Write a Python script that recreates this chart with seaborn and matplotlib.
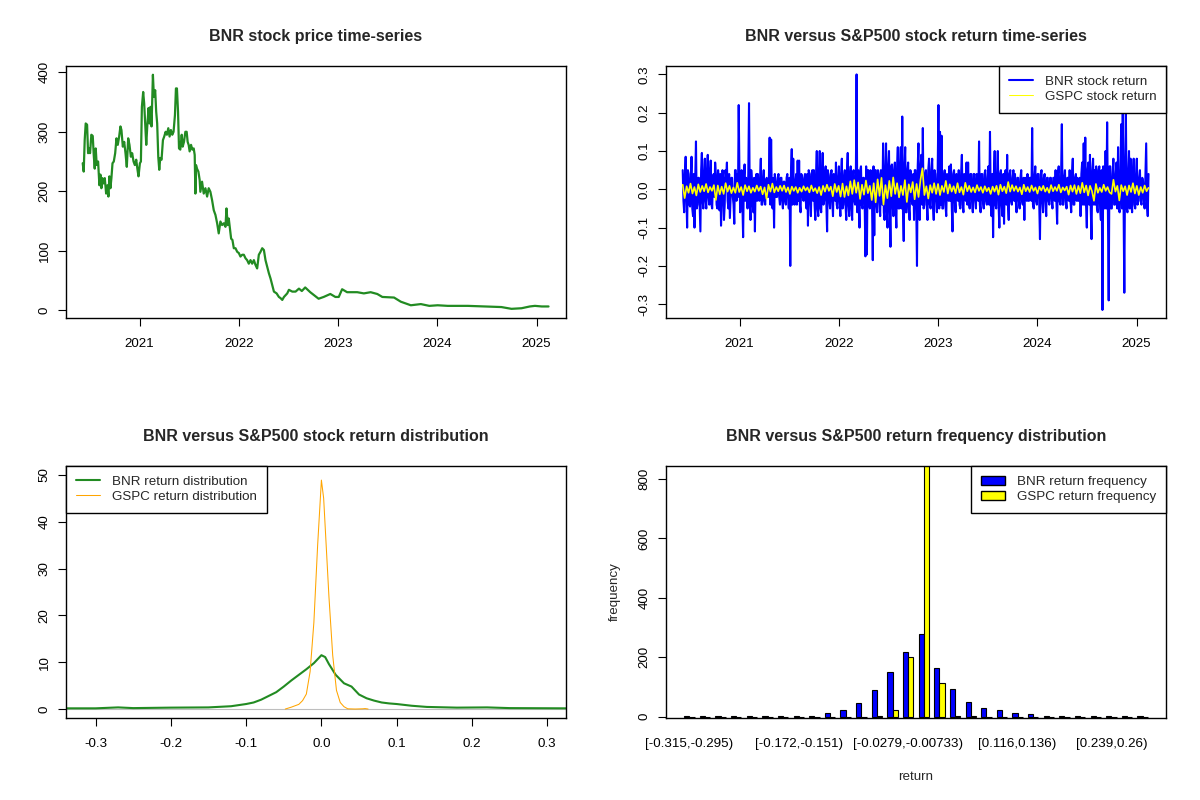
import numpy as np
import pandas as pd
import matplotlib
matplotlib.use("Agg")
import matplotlib.pyplot as plt
import seaborn as sns
from matplotlib.patches import Patch
from matplotlib.lines import Line2D

# ---- data ----
# BNR closing price (decimal year, price)
price_year = [2020.428, 2020.438, 2020.448, 2020.458, 2020.472, 2020.482, 2020.492, 2020.502, 2020.515,
              2020.529, 2020.539, 2020.549, 2020.559, 2020.569, 2020.583, 2020.596, 2020.606, 2020.616,
              2020.626, 2020.637, 2020.650, 2020.664, 2020.677, 2020.687, 2020.697, 2020.707, 2020.717,
              2020.728, 2020.741, 2020.755, 2020.768, 2020.781, 2020.795, 2020.808, 2020.818, 2020.832,
              2020.846, 2020.859, 2020.872, 2020.886, 2020.899, 2020.913, 2020.926, 2020.940, 2020.953,
              2020.967, 2020.980, 2020.990, 2021.004, 2021.014, 2021.024, 2021.037, 2021.047, 2021.058,
              2021.068, 2021.078, 2021.091, 2021.101, 2021.111, 2021.121, 2021.135, 2021.145, 2021.158,
              2021.168, 2021.178, 2021.189, 2021.199, 2021.209, 2021.222, 2021.236, 2021.249, 2021.263,
              2021.276, 2021.290, 2021.303, 2021.316, 2021.330, 2021.343, 2021.357, 2021.367, 2021.377,
              2021.388, 2021.398, 2021.411, 2021.425, 2021.435, 2021.448, 2021.462, 2021.475, 2021.485,
              2021.495, 2021.505, 2021.519, 2021.532, 2021.546, 2021.556, 2021.563, 2021.569, 2021.579,
              2021.593, 2021.606, 2021.613, 2021.630, 2021.647, 2021.664, 2021.681, 2021.697, 2021.714,
              2021.731, 2021.748, 2021.765, 2021.782, 2021.798, 2021.815, 2021.832, 2021.849, 2021.866,
              2021.876, 2021.889, 2021.899, 2021.909, 2021.923, 2021.936, 2021.950, 2021.967, 2021.984,
              2022.000, 2022.017, 2022.034, 2022.051, 2022.068, 2022.084, 2022.101, 2022.118, 2022.135,
              2022.152, 2022.168, 2022.185, 2022.202, 2022.219, 2022.236, 2022.253, 2022.269, 2022.286,
              2022.303, 2022.320, 2022.337, 2022.354, 2022.381, 2022.404, 2022.421, 2022.438, 2022.455,
              2022.488, 2022.505, 2022.539, 2022.572, 2022.606, 2022.635, 2022.669, 2022.720, 2022.804,
              2022.855, 2022.922, 2022.973, 2023.007, 2023.041, 2023.091, 2023.193, 2023.260, 2023.328,
              2023.395, 2023.446, 2023.564, 2023.632, 2023.733, 2023.834, 2023.919, 2024.003, 2024.105,
              2024.307, 2024.476, 2024.645, 2024.747, 2024.848, 2024.932, 2024.983, 2025.051, 2025.120]
price_value = [247, 233, 286, 314, 312, 264, 272, 264, 295,
               293, 261, 238, 272, 244, 250, 210, 228, 205,
               222, 213, 222, 196, 210, 191, 225, 205, 222,
               247, 250, 264, 289, 278, 292, 309, 303, 275,
               283, 264, 241, 289, 278, 258, 264, 250, 244,
               253, 236, 225, 247, 250, 342, 367, 348, 312,
               278, 309, 340, 314, 342, 309, 396, 359, 370,
               334, 314, 258, 236, 256, 253, 286, 292, 300,
               295, 306, 292, 303, 295, 300, 328, 373, 373,
               334, 272, 270, 295, 275, 283, 300, 300, 283,
               278, 267, 278, 270, 272, 261, 196, 244, 238,
               233, 219, 199, 216, 196, 205, 191, 205, 199,
               185, 168, 160, 146, 129, 149, 143, 146, 140,
               171, 143, 154, 140, 120, 118, 104, 104, 98,
               96, 90, 93, 93, 87, 84, 78, 84, 78,
               84, 76, 70, 93, 98, 104, 101, 84, 73,
               62, 53, 42, 31, 28, 22, 20, 17, 22,
               28, 34, 31, 31, 36, 32, 38, 30, 19,
               22, 27, 22, 22, 35, 30, 30, 28, 30,
               27, 22, 21, 14, 8, 10, 7, 8, 7,
               7, 6, 5, 2, 3, 6, 7, 6, 6]

# BNR daily return, two stretches of the time axis: visible spikes ...
bnr_ret_a = [0.05, -0.06, 0.085, -0.1, 0.04, -0.045, 0.085, -0.07, -0.1, 0.125,
             -0.04, 0.03, -0.11, 0.095, -0.05, 0.08, -0.05, 0.09, -0.04, 0.075,
             -0.05, 0.04, 0.07, -0.04, 0.05, -0.055, -0.095, 0.05, -0.08, 0.05,
             0.07, -0.05, -0.075, 0.03, -0.02, -0.09, 0.05, 0.04, 0.22, -0.06,
             0.05, -0.125, 0.065, 0.03, -0.05, 0.225, -0.08, 0.02, -0.06, -0.11,
             0.04, 0.04, -0.03, 0.08, -0.04, 0.05, -0.04, 0.03, -0.02, 0.135,
             0.13, -0.05, -0.1, 0.02, -0.02, 0.04, -0.04, 0.03, -0.05, 0.02,
             -0.04, 0.04, -0.05, -0.2, 0.105, 0.08, -0.04, 0.04, 0.075, 0.075,
             -0.06, 0.03, -0.03, 0.04, -0.05, -0.095, 0.04, -0.07, 0.05, 0.05,
             -0.08, 0.1, -0.07, 0.1, -0.06, 0.095, -0.03, 0.06, -0.11, 0.035,
             -0.05, 0.05, -0.07, 0.02, 0.07, -0.05, 0.06, -0.07, 0.08, -0.04,
             0.05, -0.08, 0.095, -0.07, 0.06, -0.08, 0.05, -0.04, 0.3, 0.05,
             -0.1, 0.06, -0.05, 0.03, -0.175, -0.17, 0.05, -0.05, 0.04, -0.185,
             -0.12, 0.05, -0.06, 0.04, -0.07, 0.03, 0.12, -0.08, 0.12, -0.1,
             0.1, -0.15, 0.065, -0.07, 0.07, -0.1, 0.11, -0.05, 0.11, 0.19,
             -0.135, 0.11, -0.06, 0.07, -0.08, 0.04, -0.04, -0.08, 0.05, -0.2,
             0.12]
bnr_ret_b = [-0.08, 0.09, 0.16, -0.04, 0.05, -0.08, 0.08, -0.05, 0.08, -0.08,
             0.04, -0.06, 0.22, 0.15, 0.14, -0.05, 0.05, -0.07, 0.03, 0.06,
             0.065, -0.11, 0.05, -0.06, 0.03, 0.05, -0.05, 0.09, -0.06, 0.03,
             0.07, 0.07, -0.05, 0.04, -0.06, 0.04, -0.05, 0.03, 0.125, -0.06,
             0.04, -0.05, 0.05, -0.04, 0.06, 0.15, -0.07, -0.125, 0.1, -0.05,
             0.1, -0.1, 0.05, -0.07, -0.09, 0.05, 0.09, -0.08, 0.05, -0.04,
             0.05, 0.04, -0.06, 0.03, -0.05, 0.05, -0.04, -0.08, 0.02, 0.04,
             -0.03, 0.03, 0.16, -0.05, 0.06, -0.04, 0.04, -0.13, 0.05, -0.06,
             0.04, -0.07, 0.03, -0.04, 0.03, -0.05, 0.03, 0.05, -0.09, 0.06,
             -0.04, 0.17, -0.04, 0.05, -0.05, 0.03, 0.05, -0.06, 0.08, -0.04,
             0.04, 0.03, -0.03, -0.07, 0.07, 0.12, 0.135, -0.1, 0.07, 0.09,
             -0.13, 0.08, 0.05, 0.06, -0.06, 0.06, -0.08, -0.315, 0.05, 0.1,
             0.175, -0.29, 0.06, -0.05, 0.08, -0.04, 0.07, 0.11, -0.06, 0.17,
             0.205, -0.27, 0.2, -0.06, 0.1, 0.08, -0.06, 0.08, -0.05, 0.08,
             -0.03, 0.05, -0.04, 0.02, -0.05, 0.12, -0.07]
# ... and the ordinary days in between (the solid core of the blue band)
bnr_band_a = [-0.03, 0.04, -0.02, 0.05, -0.04, 0.03, -0.05, 0.04, 0.03, -0.05,
              0.03, -0.04, 0.05, -0.03, 0.04, -0.03, 0.05, -0.02, 0.04, -0.04,
              0.03, -0.02, 0.04, -0.05, 0.02, 0.04, -0.03, 0.03, -0.04, 0.03,
              -0.03, 0.04, -0.02, 0.03, -0.04, 0.05, -0.03, -0.02, 0.04, 0.03,
              -0.04, 0.03, -0.03, -0.02, 0.04, -0.02, 0.05, -0.04, 0.03, 0.02,
              -0.03, -0.02, 0.03, -0.04, 0.02, -0.03, 0.02, -0.02, 0.03, -0.04,
              -0.03, 0.03, 0.04, -0.02, 0.03, -0.02, 0.03, -0.03, 0.02, -0.03,
              0.03, -0.02, 0.03, 0.05, -0.04, -0.03, 0.02, -0.04, -0.03, -0.04,
              0.04, -0.02, 0.03, -0.03, 0.04, 0.05, -0.03, 0.04, -0.03, -0.04,
              0.04, -0.05, 0.04, -0.05, 0.04, -0.04, 0.03, -0.04, 0.05, -0.03,
              0.04, -0.03, 0.04, -0.03, -0.04, 0.03, -0.03, 0.04, -0.05, 0.03,
              -0.04, 0.05, -0.04, 0.03, -0.05, 0.04, -0.03, 0.03, -0.06, -0.04,
              0.05, -0.04, 0.03, -0.04, 0.06, 0.05, -0.04, 0.05, -0.04, 0.06,
              0.05, -0.04, 0.05, -0.03, 0.05, -0.04, -0.06, 0.05, -0.06, 0.06,
              -0.05, 0.06, -0.04, 0.05, -0.05, 0.06, -0.05, 0.06, -0.05, -0.06,
              0.05, -0.06, 0.05, -0.05, 0.05, -0.03, 0.04, 0.05, -0.04, 0.06,
              -0.05]
bnr_band_b = [0.05, -0.04, -0.05, 0.04, -0.04, 0.05, -0.04, 0.05, -0.04, 0.05,
              -0.03, 0.04, -0.05, -0.04, -0.05, 0.03, -0.04, 0.04, -0.03, -0.03,
              -0.04, 0.04, -0.03, 0.04, -0.03, -0.04, 0.04, -0.04, 0.04, -0.03,
              -0.04, -0.03, 0.04, -0.03, 0.04, -0.03, 0.04, -0.03, -0.04, 0.04,
              -0.03, 0.04, -0.03, 0.03, -0.04, -0.04, 0.04, 0.04, -0.04, 0.04,
              -0.04, 0.04, -0.04, 0.04, 0.04, -0.04, -0.04, 0.04, -0.03, 0.03,
              -0.03, -0.03, 0.03, -0.03, 0.03, -0.03, 0.03, 0.03, -0.03, -0.03,
              0.03, -0.03, -0.04, 0.03, -0.03, 0.04, -0.03, 0.04, -0.03, 0.03,
              -0.03, 0.03, -0.03, 0.03, -0.03, 0.03, -0.03, -0.03, 0.04, -0.03,
              0.03, -0.04, 0.03, -0.03, 0.03, -0.03, -0.03, 0.04, -0.04, 0.03,
              -0.03, -0.03, 0.03, 0.04, -0.04, -0.04, -0.04, 0.05, -0.04, -0.05,
              0.05, -0.04, -0.04, -0.05, 0.05, -0.05, 0.05, 0.06, -0.05, -0.05,
              -0.05, 0.06, -0.05, 0.04, -0.04, 0.04, -0.05, -0.05, 0.04, -0.05,
              -0.05, 0.06, -0.05, 0.04, -0.05, -0.04, 0.04, -0.04, 0.04, -0.04,
              0.03, -0.03, 0.03, -0.03, 0.04, -0.04, 0.04]
bnr_span_a = (2020.428, 2022.810)
bnr_span_b = (2022.815, 2025.120)

# S&P500 (GSPC) daily return, in percent
gspc_ret_pct = [1.2, -2.3, 0.8, -0.9, 1.5, -1.1, 0.6, -1.6, 1.3, -0.7,
                0.9, -0.5, 1.4, -0.8, 0.6, -0.4, 1.1, -2.8, 1.0, -1.3,
                0.7, -1.2, 1.6, -0.6, 0.9, -1.0, 0.5, -0.9, 1.7, -0.7,
                0.6, -1.5, 1.1, -0.5, 0.8, -0.9, 0.4, -0.6, 1.0, -0.4,
                0.7, -1.3, 0.5, -2.5, 1.2, -0.6, 1.5, -0.8, 0.6, -0.5,
                0.9, -0.4, 1.0, -0.7, 0.5, -1.2, 0.7, -0.4, 0.6, -0.9,
                0.4, -0.6, 0.8, -0.3, 0.5, -0.8, 1.0, -0.5, 0.3, -1.0,
                0.6, -1.5, 0.9, -0.6, 1.2, -0.4, 0.7, -1.8, 1.4, -0.7,
                0.9, -1.9, 1.5, -2.0, 0.8, -1.6, 2.1, -1.2, 2.4, -0.9,
                1.8, -2.5, 1.2, -1.4, 2.3, -1.0, 0.9, -2.8, 1.6, -3.4,
                2.6, -1.7, 3.0, -4.0, 1.1, -2.3, 2.2, -1.8, 3.1, -1.2,
                1.6, -2.1, 0.9, -1.5, 2.4, -3.3, 1.3, -0.8, 1.9, -2.6,
                1.4, -2.0, 2.5, 5.5, -1.5, 0.8, -2.4, 1.1, -0.9, 1.6,
                -1.2, 1.4, -1.5, 0.9, -0.7, 2.2, -1.1, 1.3, -0.6, 0.8,
                -1.0, 1.6, -0.8, 0.6, -1.4, 1.7, -0.5, 0.9, -0.7, 0.5,
                -0.8, 1.1, -0.4, 0.6, -0.9, 0.8, -0.5, 0.4, -1.2, 0.7,
                -0.6, 0.9, -1.4, 1.2, -0.5, 0.7, -1.0, 1.9, -0.6, 1.1,
                -0.4, 0.8, -0.6, 0.5, -1.3, 1.2, -0.5, 0.6, -0.7, 1.0,
                -0.4, 0.5, -1.1, 0.7, -0.3, 0.9, -0.6, 0.4, -0.9, 1.1,
                -0.5, 0.6, -0.4, 1.2, -0.8, 0.5, -0.3, 0.7, -1.4, 1.0,
                -0.6, 1.1, -1.2, 0.9, -1.0, 1.7, -0.8, 1.0, -1.6, 0.9,
                -0.5, -3.0, 1.4, -0.9, 0.4, -0.7, 1.2, -0.4, 0.6, -0.8,
                -1.2, 2.5, -0.6, 0.9, -2.9, 1.1, -0.5, 0.8, -1.5, 1.0,
                -0.7, 1.6, -1.1, 0.9, -1.5, 0.6, -0.9, 1.0, -0.5, 0.4]
gspc_span = (2020.428, 2025.120)

# kernel density curves
bnr_dens_x = [-0.3397, -0.30, -0.27, -0.25, -0.20, -0.15, -0.12, -0.10, -0.09, -0.08, -0.07, -0.06,
              -0.05, -0.04, -0.03, -0.02, -0.01, 0.0, 0.005, 0.01, 0.019, 0.03, 0.04, 0.05,
              0.06, 0.07, 0.08, 0.09, 0.10, 0.12, 0.14, 0.18, 0.22, 0.25, 0.3254]
bnr_dens_y = [0.15, 0.15, 0.35, 0.2, 0.3, 0.35, 0.6, 1.07, 1.4, 2.0, 2.8, 3.6,
              4.8, 6.1, 7.3, 8.5, 9.8, 11.5, 11.1, 9.6, 7.3, 5.5, 4.8, 3.1,
              2.3, 1.8, 1.4, 1.2, 1.07, 0.7, 0.45, 0.3, 0.35, 0.2, 0.15]
gspc_dens_x = [-0.048, -0.04, -0.03, -0.025, -0.02, -0.015, -0.01, -0.005, 0.0, 0.003, 0.006,
               0.01, 0.015, 0.02, 0.025, 0.03, 0.035, 0.045, 0.055, 0.058, 0.062]
gspc_dens_y = [0.0, 0.4, 1.0, 1.8, 3.2, 8.0, 18.5, 35.0, 48.9, 45.0, 36.0,
               24.0, 11.5, 4.0, 1.4, 0.5, 0.05, 0.0, 0.05, 0.1, 0.0]

# return frequency in 30 bins
bnr_freq = [3, 1, 3, 1, 1, 2, 3, 3, 2, 14, 21, 45, 90, 149, 218, 278, 163, 93, 48, 28,
            21, 14, 8, 4, 3, 4, 3, 1, 1, 1]
gspc_freq = [0, 0, 0, 0, 0, 0, 0, 0, 0, 0, 0, 0, 2, 21, 200, 887, 112, 3, 1, 0,
             0, 0, 0, 0, 0, 0, 0, 0, 0, 0]
bin_tick_pos = [0, 7, 14, 21, 27]
bin_tick_labels = ["[-0.315,-0.295)", "[-0.172,-0.151)", "[-0.0279,-0.00733)",
                   "[0.116,0.136)", "[0.239,0.26)"]

year_ticks = [2021, 2022, 2023, 2024, 2025]

# ---- style ----
sns.set_style("ticks", {"axes.edgecolor": "black", "axes.linewidth": 1.0,
                        "xtick.color": "black", "ytick.color": "black"})
plt.rcParams["font.family"] = ["Liberation Sans", "DejaVu Sans"]
FS = 9.6

fig = plt.figure(figsize=(12, 8), dpi=100)
W, H = 0.4173, 0.316
ax1 = fig.add_axes([0.0547, 0.602, W, H])
ax2 = fig.add_axes([0.5547, 0.602, W, H])
ax3 = fig.add_axes([0.0547, 0.102, W, H])
ax4 = fig.add_axes([0.5547, 0.102, W, H])


def r_look(ax, title):
    ax.set_title(title, fontsize=11.5, fontweight="bold", pad=18)
    for s in ax.spines.values():
        s.set_visible(True)
        s.set_color("black")
        s.set_linewidth(1.0)
    ax.tick_params(direction="out", length=5.8, width=0.8, labelsize=FS, pad=8.5)
    ax.tick_params(axis="y", labelrotation=90, pad=5)
    for lab in ax.get_yticklabels():
        lab.set_va("center")
    ax.set_xlabel("")
    ax.set_ylabel("")


def r_legend(ax, handles, labels, loc):
    leg = ax.legend(handles, labels, loc=loc, fontsize=FS, frameon=True, fancybox=False,
                    framealpha=1, edgecolor="black", borderaxespad=0, borderpad=0.75,
                    handlelength=1.8, handletextpad=0.9, labelspacing=0.2)
    leg.get_frame().set_linewidth(1.0)
    leg.set_zorder(10)
    return leg


def interleave(spikes, band):
    out = []
    for s, b in zip(spikes, band):
        out += [s, b]
    return out


# panel 1: price
sns.lineplot(x=price_year, y=price_value, ax=ax1, color="#228B22", linewidth=1.6, estimator=None)
ax1.set_xlim(2020.256, 2025.3)
ax1.set_ylim(-14.1, 411.4)
ax1.set_xticks(year_ticks)
ax1.set_xticklabels([str(y) for y in year_ticks])
ax1.set_yticks([0, 100, 200, 300, 400])
ax1.set_yticklabels(["0", "100", "200", "300", "400"])
r_look(ax1, "BNR stock price time-series")

# panel 2: returns
ret_a = interleave(bnr_ret_a, bnr_band_a)
ret_b = interleave(bnr_ret_b, bnr_band_b)
bnr_t = np.concatenate([np.linspace(*bnr_span_a, len(ret_a)),
                        np.linspace(*bnr_span_b, len(ret_b))])
bnr_r = np.array(ret_a + ret_b)
gspc_t = np.linspace(*gspc_span, len(gspc_ret_pct))
gspc_r = np.array(gspc_ret_pct) / 100.0
sns.lineplot(x=bnr_t, y=bnr_r, ax=ax2, color="#0000FF", linewidth=1.5, estimator=None)
sns.lineplot(x=gspc_t, y=gspc_r, ax=ax2, color="#FFFF00", linewidth=1.2, estimator=None)
ax2.set_xlim(2020.256, 2025.3)
ax2.set_ylim(-0.337, 0.323)
ax2.set_xticks(year_ticks)
ax2.set_xticklabels([str(y) for y in year_ticks])
rt = [-0.3, -0.2, -0.1, 0.0, 0.1, 0.2, 0.3]
ax2.set_yticks(rt)
ax2.set_yticklabels([f"{v:.1f}" for v in rt])
r_look(ax2, "BNR versus S&P500 stock return time-series")
r_legend(ax2, [Line2D([], [], color="#0000FF", lw=1.5), Line2D([], [], color="#FFFF00", lw=0.75)],
         ["BNR stock return", "GSPC stock return"], "upper right")

# panel 3: density
ax3.axhline(0, color="#BEBEBE", linewidth=0.8, zorder=1)
sns.lineplot(x=bnr_dens_x, y=bnr_dens_y, ax=ax3, color="#228B22", linewidth=1.5, estimator=None)
sns.lineplot(x=gspc_dens_x, y=gspc_dens_y, ax=ax3, color="#FFA500", linewidth=0.75, estimator=None)
ax3.set_xlim(-0.3397, 0.3254)
ax3.set_ylim(-2.0, 52.0)
ax3.set_xticks(rt)
ax3.set_xticklabels([f"{v:.1f}" for v in rt])
ax3.set_yticks([0, 10, 20, 30, 40, 50])
ax3.set_yticklabels(["0", "10", "20", "30", "40", "50"])
r_look(ax3, "BNR versus S&P500 stock return distribution")
r_legend(ax3, [Line2D([], [], color="#228B22", lw=1.5), Line2D([], [], color="#FFA500", lw=0.75)],
         ["BNR return distribution", "GSPC return distribution"], "upper left")

# panel 4: grouped frequency bars
freq = pd.DataFrame({
    "bin": list(range(len(bnr_freq))) * 2,
    "count": bnr_freq + gspc_freq,
    "series": ["BNR"] * len(bnr_freq) + ["GSPC"] * len(gspc_freq),
})
sns.barplot(data=freq, x="bin", y="count", hue="series", ax=ax4,
            palette={"BNR": "#0000FF", "GSPC": "#FFFF00"}, saturation=1,
            width=2 / 3, gap=0, edgecolor="black", linewidth=0.8, legend=False)
ax4.set_xlim(-1.52, 30.52)
ax4.set_ylim(-5.7, 845)
ax4.set_xticks(bin_tick_pos)
ax4.set_xticklabels(bin_tick_labels)
ax4.set_yticks([0, 200, 400, 600, 800])
ax4.set_yticklabels(["0", "200", "400", "600", "800"])
r_look(ax4, "BNR versus S&P500 return frequency distribution")
ax4.tick_params(axis="x", length=0, pad=14)
ax4.set_xlabel("return", fontsize=FS, labelpad=15)
ax4.set_ylabel("frequency", fontsize=FS, labelpad=13)
r_legend(ax4, [Patch(facecolor="#0000FF", edgecolor="black"), Patch(facecolor="#FFFF00", edgecolor="black")],
         ["BNR return frequency", "GSPC return frequency"], "upper right")

fig.savefig("out.png", dpi=100)
